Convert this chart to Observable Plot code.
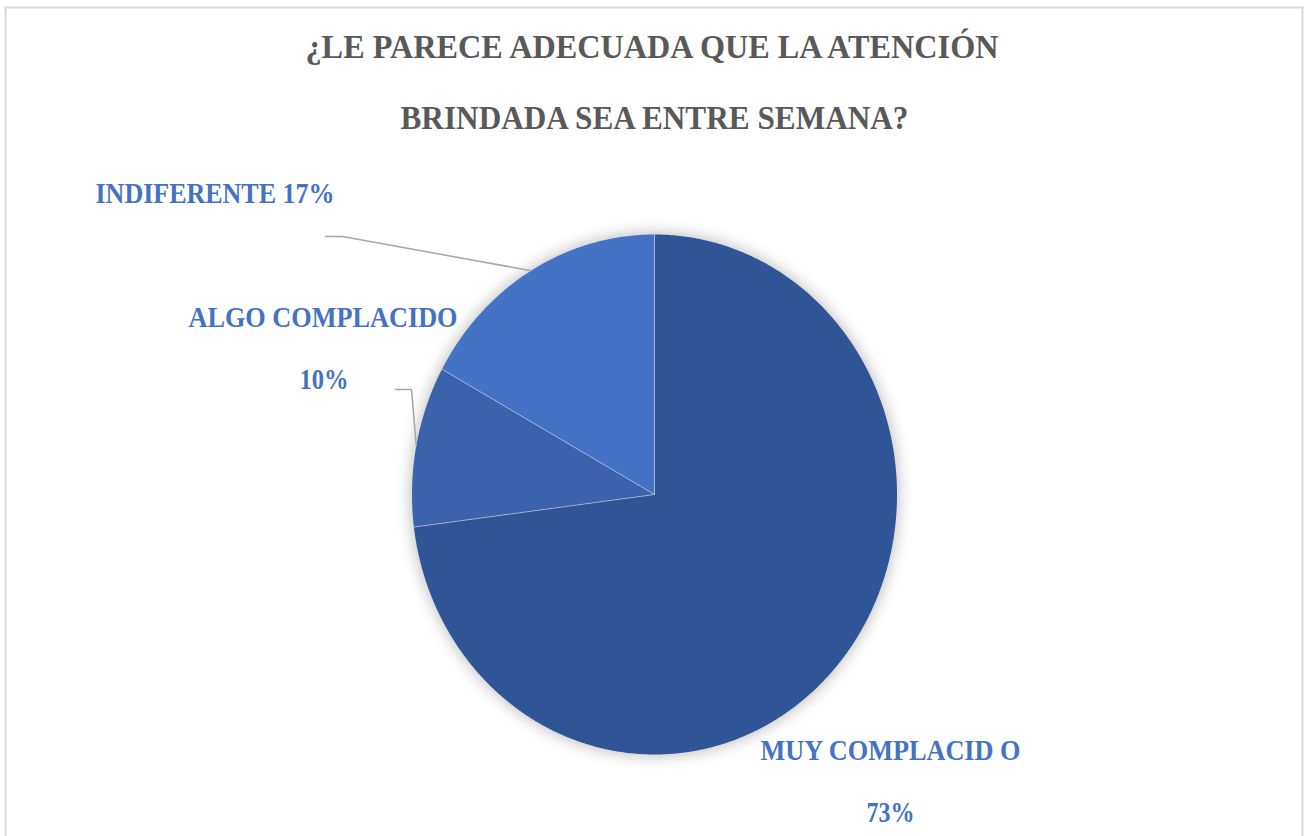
<!DOCTYPE html>
<html>
<head>
<meta charset="utf-8">
<script src="https://cdn.jsdelivr.net/npm/d3@7"></script>
<script src="https://cdn.jsdelivr.net/npm/@observablehq/plot@0.6"></script>
<style>
  html, body { margin: 0; padding: 0; background: #fff; }
  #chart svg { display: block; }
</style>
</head>
<body>
<div id="chart"></div>
<script>
// ---- data ----
const categories = ["MUY COMPLACIDO", "ALGO COMPLACIDO", "INDIFERENTE"];
const percents = [73, 10, 17];
const labelNames = ["MUY COMPLACID O", "ALGO COMPLACIDO", "INDIFERENTE"];
const sliceColors = ["#2F5597", "#3A63AB", "#4472C4"];
const titleLines = ["¿LE PARECE ADECUADA QUE LA ATENCIÓN", "BRINDADA SEA ENTRE SEMANA?"];

// ---- layout (pixels) ----
const W = 1309, H = 836;
const CX = 654, CY = 494, RX = 242.5, RY = 260;
const ux = px => (px - CX) / RX;
const uy = py => (CY - py) / RY;

// pie geometry from data
const arcs = d3.pie().sort(null).value(d => d)(percents);
const slicePts = [];
arcs.forEach((a, i) => {
  const cat = categories[i];
  slicePts.push({cat, x: 0, y: 0});
  const n = Math.max(2, Math.ceil((a.endAngle - a.startAngle) / (Math.PI / 360)));
  for (let k = 0; k <= n; k++) {
    const t = a.startAngle + (a.endAngle - a.startAngle) * k / n;
    slicePts.push({cat, x: Math.sin(t), y: Math.cos(t)});
  }
  slicePts.push({cat, x: 0, y: 0});
});
const separators = arcs.map(a => ({x: Math.sin(a.startAngle), y: Math.cos(a.startAngle)}));
const mid = a => (a.startAngle + a.endAngle) / 2;

// label placement (pixels) per category
const labelLayout = {
  "MUY COMPLACIDO": {lines: [[890, 750.5, "name", 260], [890, 812.5, "pct", 48]], anchor: "middle", leader: null},
  "ALGO COMPLACIDO": {lines: [[322.5, 317, "name", 269], [323.5, 379, "pct", 49]], anchor: "middle", leader: [[395, 389], [411, 389]]},
  "INDIFERENTE": {lines: [[95, 193, "both", 239]], anchor: "start", leader: [[325, 236], [342, 236]]}
};

const labelRows = [];
const leaderPts = [];
categories.forEach((cat, i) => {
  const L = labelLayout[cat];
  L.lines.forEach(([px, py, kind, w]) => {
    const text = kind === "name" ? labelNames[i] : kind === "pct" ? `${percents[i]}%` : `${labelNames[i]} ${percents[i]}%`;
    labelRows.push({x: ux(px), y: uy(py), text, anchor: L.anchor, w});
  });
  if (L.leader) {
    L.leader.forEach(([px, py]) => leaderPts.push({cat, x: ux(px), y: uy(py)}));
    const m = mid(arcs[i]);
    leaderPts.push({cat, x: Math.sin(m), y: Math.cos(m)});
  }
});
const titleRows = [
  {x: ux(651.5), y: uy(47), text: titleLines[0], w: 693},
  {x: ux(654), y: uy(118), text: titleLines[1], w: 508}
];

const font = "'Liberation Serif', 'Times New Roman', serif";

const chart = Plot.plot({
  width: W, height: H, margin: 0,
  x: {domain: [ux(0), ux(W)], axis: null},
  y: {domain: [uy(H), uy(0)], axis: null},
  color: {domain: categories, range: sliceColors},
  style: {background: "#ffffff"},
  marks: [
    Plot.frame({stroke: "#d9d9d9", strokeWidth: 2, insetLeft: 5, insetTop: 7, insetRight: 7, insetBottom: -20}),
    Plot.line(slicePts, {x: "x", y: "y", z: "cat", fill: "cat", stroke: "none", curve: "linear"}),
    Plot.link(separators, {x1: () => 0, y1: () => 0, x2: "x", y2: "y", stroke: "#ffffff", strokeOpacity: 0.45, strokeWidth: 1}),
    Plot.line(leaderPts, {x: "x", y: "y", z: "cat", stroke: "#a6a6a6", strokeWidth: 1.5}),
    Plot.text(labelRows, {x: "x", y: "y", text: "text", textAnchor: d => d.anchor, fill: "#4472C4",
      fontSize: 29, fontWeight: "bold", fontFamily: font}),
    Plot.text(titleRows, {x: "x", y: "y", text: "text", fill: "#595959",
      fontSize: 33, fontWeight: "bold", fontFamily: font})
  ]
});

// per-text horizontal widths (matching the squeezed lettering of the original)
const widths = new Map([...labelRows, ...titleRows].map(d => [d.text, d.w]));
d3.select(chart).selectAll("text").each(function() {
  const t = this.textContent;
  if (widths.has(t)) {
    this.setAttribute("textLength", widths.get(t));
    this.setAttribute("lengthAdjust", "spacingAndGlyphs");
  }
  const row = labelRows.find(r => r.text === t);
  if (row) this.setAttribute("text-anchor", row.anchor);
});
const pieG = chart.querySelectorAll('g[aria-label="line"]')[0];
if (pieG) pieG.style.filter = "drop-shadow(0 0 8px rgba(0,0,0,0.3))";

document.getElementById("chart").appendChild(chart);
</script>
</body>
</html>
